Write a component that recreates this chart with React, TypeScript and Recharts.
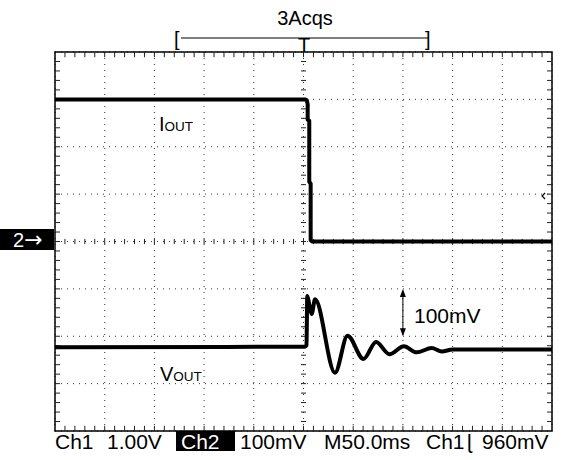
import * as React from 'react'
import {
  LineChart,
  Line,
  XAxis,
  YAxis,
  CartesianGrid,
  ReferenceLine,
  ReferenceArea,
  ReferenceDot,
} from 'recharts'

// scope settings
const TIME_PER_DIV = 50 // ms
const CH1_PER_DIV = 1.0 // V
const CH2_PER_DIV = 100 // mV

// Ch1 (IOUT) trace: time in ms, level in V
const ioutTime = [-250, 1.5, 3.3, 4.2, 4.2, 5.8, 5.8, 7.2, 7.2, 8.5, 250]
const ioutVolts = [3.0, 3.0, 2.98, 2.9, 2.57, 2.55, 1.26, 1.22, 0.03, 0, 0]

// Ch2 (VOUT) trace: time in ms, level in mV
const voutTime = [-250, 1.5, 3.0, 3.8, 6.0, 8.2, 11.6, 31.7, 44.3, 60.4, 73, 86.5, 101, 113.7, 129, 139, 150, 250]
const voutMv = [-223, -222, -219, -115, -135, -153, -122, -277, -199, -248, -212, -238, -221, -234, -225, -232, -228, -228]

// graticule
const majorTime = [-250, -200, -150, -100, -50, 0, 50, 100, 150, 200, 250]
const majorDiv = [-4, -3, -2, -1, 0, 1, 2, 3, 4]

const TRIGGER_LEVEL = 0.96 // V
const CURSOR_TIME = 100 // ms, position of the 100mV scale arrow

const W = 573
const H = 460
const M = { top: 52, right: 21, bottom: 29, left: 55 }
const FONT = '"Liberation Sans", Arial, sans-serif'

const ioutData = ioutTime.map((t, i) => ({ t, y: ioutVolts[i] / CH1_PER_DIV }))
const voutData = voutTime.map((t, i) => ({ t, y: voutMv[i] / CH2_PER_DIV }))

const tMin = majorTime[0]
const tMax = majorTime[majorTime.length - 1]
const dMin = majorDiv[0]
const dMax = majorDiv[majorDiv.length - 1]
const minorStepT = TIME_PER_DIV / 5
const minorT: number[] = []
for (let t = tMin + minorStepT; t < tMax; t += minorStepT) minorT.push(Math.round(t))
const minorD: number[] = []
for (let d = dMin + 0.2; d < dMax - 0.01; d += 0.2) minorD.push(Math.round(d * 10) / 10)

// tick sizes in data units (about 5px)
const tickT = 5
const tickD = 0.11

function ArrowShape(props: any) {
  const { x1, y1, x2, y2 } = props
  const top = Math.min(y1, y2)
  const bot = Math.max(y1, y2)
  return (
    <g>
      <line x1={x1} y1={top + 2} x2={x2} y2={bot - 2} stroke="#000" strokeWidth={1} />
      <path d={`M${x1 - 3},${top + 8} L${x1},${top} L${x1 + 3},${top + 8} Z`} fill="#000" />
      <path d={`M${x1 - 3},${bot - 8} L${x1},${bot} L${x1 + 3},${bot - 8} Z`} fill="#000" />
    </g>
  )
}

function TriggerMark(props: any) {
  const { cx, cy } = props
  return (
    <path
      d={`M${cx + 2},${cy - 3} L${cx - 1},${cy} L${cx + 2},${cy + 3}`}
      fill="none"
      stroke="#000"
      strokeWidth={1.2}
    />
  )
}

function seg(key: string, a: [number, number], b: [number, number], width = 1) {
  return (
    <ReferenceLine
      key={key}
      segment={[{ x: a[0], y: a[1] }, { x: b[0], y: b[1] }]}
      stroke="#222"
      strokeWidth={width}
      ifOverflow="visible"
    />
  )
}

export default function App() {
  const ticks: React.ReactNode[] = []
  minorT.forEach((t) => {
    ticks.push(seg(`top-${t}`, [t, dMax], [t, dMax - tickD]))
    ticks.push(seg(`bot-${t}`, [t, dMin], [t, dMin + tickD]))
    ticks.push(seg(`mid-${t}`, [t, -tickD / 2], [t, tickD / 2]))
  })
  minorD.forEach((d) => {
    ticks.push(seg(`left-${d}`, [tMin, d], [tMin + tickT, d]))
    ticks.push(seg(`right-${d}`, [tMax, d], [tMax - tickT, d]))
    ticks.push(seg(`ctr-${d}`, [-tickT / 2, d], [tickT / 2, d]))
  })

  return (
    <div style={{ position: 'absolute', left: 0, top: 0, width: W, height: H, background: '#fff', fontFamily: FONT }}>
      <LineChart width={W} height={H} margin={M}>
        <XAxis type="number" dataKey="t" domain={[tMin, tMax]} ticks={majorTime} hide />
        <YAxis type="number" domain={[dMin, dMax]} ticks={majorDiv} hide />
        <CartesianGrid stroke="#333" strokeDasharray="1 5" />
        {ticks}
        <ReferenceArea x1={tMin} x2={tMax} y1={dMin} y2={dMax} fill="none" stroke="#000" strokeWidth={1.5} ifOverflow="visible" />
        <ReferenceLine
          segment={[{ x: CURSOR_TIME, y: -1 }, { x: CURSOR_TIME, y: -2 }]}
          shape={<ArrowShape />}
          ifOverflow="visible"
        />
        <ReferenceDot x={241} y={TRIGGER_LEVEL / CH1_PER_DIV} shape={<TriggerMark />} ifOverflow="visible" />
        <Line
          data={ioutData}
          dataKey="y"
          type="linear"
          stroke="#000"
          strokeWidth={4}
          strokeLinejoin="round"
          dot={false}
          isAnimationActive={false}
        />
        <Line
          data={voutData}
          dataKey="y"
          type="monotone"
          stroke="#000"
          strokeWidth={4}
          strokeLinejoin="round"
          dot={false}
          isAnimationActive={false}
        />
      </LineChart>

      <svg width={W} height={H} style={{ position: 'absolute', left: 0, top: 0, pointerEvents: 'none' }} fontFamily={FONT}>
        {/* acquisition header */}
        <text x={305} y={25} fontSize={20} textAnchor="middle">3Acqs</text>
        <text x={174} y={46} fontSize={20}>[</text>
        <line x1={181} y1={38} x2={428} y2={38} stroke="#000" strokeWidth={1} />
        <text x={425} y={46} fontSize={20}>]</text>
        <text x={304} y={52} fontSize={20} textAnchor="middle">T</text>

        {/* channel 2 ground marker */}
        <rect x={0} y={229} width={54} height={21} fill="#000" />
        <text x={13} y={247} fontSize={20} fill="#fff">
          2<tspan fontFamily='"DejaVu Sans", sans-serif' fontSize={22}>→</tspan>
        </text>

        {/* trace labels */}
        <text x={159} y={131}>
          <tspan fontSize={20}>I</tspan>
          <tspan fontSize={13.5}>OUT</tspan>
        </text>
        <text x={160} y={381}>
          <tspan fontSize={20}>V</tspan>
          <tspan fontSize={13.5}>OUT</tspan>
        </text>
        <text x={414} y={323} fontSize={21}>100mV</text>

        {/* status line */}
        <text x={55} y={449} fontSize={21}>Ch1</text>
        <text x={107} y={449} fontSize={21}>1.00V</text>
        <rect x={176} y={431} width={59} height={20} fill="#000" />
        <text x={181} y={449} fontSize={21} fill="#fff">Ch2</text>
        <text x={240} y={449} fontSize={21}>100mV</text>
        <text x={324} y={449} fontSize={21}>M50.0ms</text>
        <text x={426} y={449} fontSize={21}>Ch1</text>
        <text x={467} y={449} fontSize={21}>ɭ</text>
        <text x={482} y={449} fontSize={21}>960mV</text>
      </svg>
    </div>
  )
}
